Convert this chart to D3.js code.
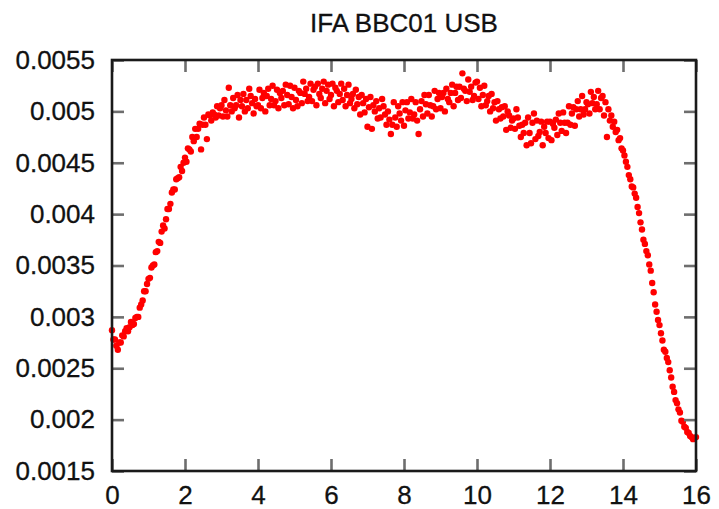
<!DOCTYPE html>
<html>
<head>
<meta charset="utf-8">
<script src="https://cdn.jsdelivr.net/npm/d3@7/dist/d3.min.js"></script>
<style>
  html, body { margin: 0; padding: 0; background: #fff; }
  svg { display: block; }
  text { font-family: "Liberation Sans", Arial, Helvetica, sans-serif; fill: #111; }
</style>
</head>
<body>
<svg id="chart" width="719" height="509"></svg>
<script>
// ---- data ----
const title = "IFA BBC01 USB";
const xStart = 0;       // first channel position
const xStep = 0.04;     // channel spacing
const amplitude = [
  0.00287,0.00278,0.00278,0.00272,0.00268,0.00275,0.00275,0.00282,0.00281,0.00286,0.00289,0.00286,0.00290,0.00295,0.00292,0.00293,0.00299,0.00300,0.00300,0.00309,0.00312,0.00316,0.00325,0.00325,0.00332,
  0.00337,0.00338,0.00348,0.00350,0.00351,0.00363,0.00364,0.00373,0.00372,0.00383,0.00389,0.00386,0.00395,0.00405,0.00405,0.00410,0.00421,0.00424,0.00424,0.00434,0.00435,0.00436,0.00446,0.00442,0.00450,
  0.00455,0.00451,0.00464,0.00463,0.00461,0.00475,0.00471,0.00483,0.00475,0.00483,0.00488,0.00463,0.00487,0.00494,0.00487,0.00473,0.00497,0.00496,0.00491,0.00499,0.00497,0.00494,0.00505,0.00496,0.00503,
  0.00506,0.00495,0.00511,0.00501,0.00495,0.00523,0.00506,0.00500,0.00513,0.00503,0.00506,0.00516,0.00494,0.00511,0.00505,0.00517,0.00500,0.00511,0.00503,0.00522,0.00515,0.00508,0.00498,0.00512,0.00505,
  0.00506,0.00521,0.00503,0.00513,0.00518,0.00500,0.00515,0.00522,0.00506,0.00512,0.00525,0.00506,0.00510,0.00521,0.00503,0.00518,0.00513,0.00520,0.00506,0.00526,0.00516,0.00507,0.00525,0.00514,0.00503,
  0.00523,0.00511,0.00505,0.00520,0.00518,0.00508,0.00529,0.00517,0.00522,0.00510,0.00514,0.00527,0.00510,0.00521,0.00524,0.00506,0.00527,0.00517,0.00513,0.00522,0.00529,0.00508,0.00520,0.00526,0.00512,
  0.00516,0.00527,0.00505,0.00523,0.00520,0.00509,0.00517,0.00527,0.00511,0.00522,0.00505,0.00516,0.00526,0.00508,0.00512,0.00517,0.00503,0.00521,0.00507,0.00514,0.00497,0.00516,0.00508,0.00499,0.00512,
  0.00485,0.00504,0.00514,0.00483,0.00506,0.00500,0.00510,0.00493,0.00503,0.00494,0.00512,0.00505,0.00497,0.00487,0.00500,0.00492,0.00478,0.00487,0.00509,0.00494,0.00485,0.00505,0.00498,0.00491,0.00509,
  0.00486,0.00501,0.00509,0.00493,0.00499,0.00512,0.00493,0.00497,0.00509,0.00491,0.00478,0.00502,0.00510,0.00495,0.00516,0.00507,0.00498,0.00516,0.00506,0.00495,0.00505,0.00520,0.00502,0.00512,0.00518,
  0.00503,0.00514,0.00518,0.00500,0.00522,0.00512,0.00509,0.00518,0.00526,0.00505,0.00518,0.00524,0.00511,0.00524,0.00513,0.00537,0.00522,0.00520,0.00510,0.00531,0.00519,0.00524,0.00511,0.00515,0.00528,
  0.00529,0.00512,0.00523,0.00505,0.00516,0.00525,0.00506,0.00510,0.00515,0.00500,0.00517,0.00503,0.00509,0.00491,0.00510,0.00502,0.00493,0.00504,0.00495,0.00505,0.00482,0.00500,0.00496,0.00484,0.00491,
  0.00493,0.00483,0.00502,0.00494,0.00486,0.00475,0.00487,0.00479,0.00489,0.00467,0.00494,0.00479,0.00469,0.00489,0.00498,0.00473,0.00491,0.00476,0.00480,0.00490,0.00467,0.00485,0.00479,0.00490,0.00474,
  0.00490,0.00472,0.00488,0.00484,0.00492,0.00477,0.00498,0.00489,0.00481,0.00499,0.00489,0.00479,0.00489,0.00505,0.00487,0.00498,0.00504,0.00486,0.00502,0.00510,0.00495,0.00502,0.00515,0.00497,0.00502,
  0.00509,0.00507,0.00498,0.00519,0.00508,0.00514,0.00502,0.00507,0.00520,0.00502,0.00513,0.00515,0.00496,0.00509,0.00475,0.00502,0.00491,0.00496,0.00485,0.00490,0.00480,0.00482,0.00472,0.00474,0.00464,
  0.00462,0.00457,0.00451,0.00446,0.00438,0.00434,0.00427,0.00426,0.00420,0.00416,0.00407,0.00401,0.00392,0.00385,0.00375,0.00371,0.00364,0.00360,0.00351,0.00345,0.00333,0.00324,0.00312,0.00305,0.00297,
  0.00292,0.00284,0.00277,0.00268,0.00266,0.00260,0.00256,0.00248,0.00241,0.00232,0.00227,0.00219,0.00216,0.00210,0.00207,0.00199,0.00198,0.00193,0.00192,0.00188,0.00187,0.00184,0.00183,0.00181,0.00182,
  0.00183
];
const xTicks = [0, 2, 4, 6, 8, 10, 12, 14, 16];
const xTickLabels = ["0", "2", "4", "6", "8", "10", "12", "14", "16"];
const yTicks = [0.0015, 0.002, 0.0025, 0.003, 0.0035, 0.004, 0.0045, 0.005, 0.0055];
const yTickLabels = ["0.0015", "0.002", "0.0025", "0.003", "0.0035", "0.004", "0.0045", "0.005", "0.0055"];

// ---- layout ----
const plotL = 112, plotR = 696, plotT = 60, plotB = 471;
const svg = d3.select("#chart");

const x = d3.scaleLinear().domain([0, 16]).range([plotL, plotR]);
const y = d3.scaleLinear().domain([0.0015, 0.0055]).range([plotB, plotT]);

const points = amplitude.map((v, i) => ({ x: xStart + i * xStep, y: v }));

// dots
svg.append("g")
  .selectAll("circle")
  .data(points)
  .join("circle")
  .attr("cx", d => x(d.x))
  .attr("cy", d => y(d.y))
  .attr("r", 3.2)
  .attr("fill", "#ff0000");

const tickLen = 12;
function styleAxis(g) {
  g.select(".domain").remove();
  g.selectAll(".tick line").attr("stroke", "#6e6e6e").attr("stroke-width", 2.6);
  g.selectAll(".tick text")
    .style("font-size", "26px")
    .attr("fill", "#111")
    .attr("stroke", "#111").attr("stroke-width", 0.3);
}

// bottom axis with labels
svg.append("g")
  .attr("transform", `translate(0,${plotB})`)
  .call(d3.axisBottom(x).tickValues(xTicks)
    .tickFormat((d, i) => xTickLabels[i])
    .tickSize(-tickLen).tickPadding(15))
  .call(styleAxis);

// top mirror ticks
svg.append("g")
  .attr("transform", `translate(0,${plotT})`)
  .call(d3.axisTop(x).tickValues(xTicks).tickFormat("").tickSize(-tickLen))
  .call(styleAxis);

// left axis with labels
svg.append("g")
  .attr("transform", `translate(${plotL},0)`)
  .call(d3.axisLeft(y).tickValues(yTicks)
    .tickFormat((d, i) => yTickLabels[i])
    .tickSize(-tickLen).tickPadding(17))
  .call(styleAxis);

// right mirror ticks
svg.append("g")
  .attr("transform", `translate(${plotR},0)`)
  .call(d3.axisRight(y).tickValues(yTicks).tickFormat("").tickSize(-tickLen))
  .call(styleAxis);

// frame
svg.append("rect")
  .attr("x", plotL).attr("y", plotT)
  .attr("width", plotR - plotL).attr("height", plotB - plotT)
  .attr("fill", "none")
  .attr("stroke", "#1a1a1a")
  .attr("stroke-width", 2.6);

// title
svg.append("text")
  .attr("x", (plotL + plotR) / 2)
  .attr("y", 32)
  .attr("text-anchor", "middle")
  .style("font-size", "26px")
  .attr("stroke", "#111").attr("stroke-width", 0.3)
  .text(title);
</script>
</body>
</html>
